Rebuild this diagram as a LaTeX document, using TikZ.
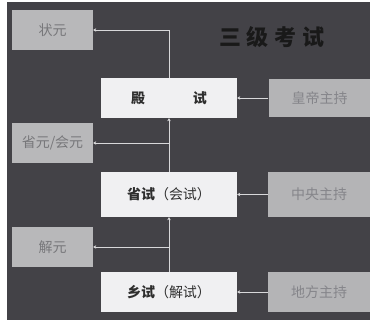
\documentclass[tikz,border=0pt]{standalone}
\usepackage{fontspec}
\setmainfont{Noto Sans CJK SC}
\usetikzlibrary{arrows.meta}
\definecolor{bgc}{HTML}{434247}
\definecolor{sidebox}{HTML}{B8B8BA}
\definecolor{sidetxt}{HTML}{77777A}
\definecolor{midbox}{HTML}{F0F0F2}
\definecolor{midtxt}{HTML}{2E2E2E}
\definecolor{rbox}{HTML}{B4B4B6}
\definecolor{rtxt}{HTML}{85858A}
\definecolor{linec}{HTML}{D8D8DA}
\tikzset{
  leftbox/.style={fill=sidebox, draw=none, minimum width=81pt, minimum height=40pt, inner sep=0pt, text=sidetxt, font=\fontsize{14}{14}\selectfont},
  midnode/.style={fill=midbox, draw=none, minimum width=136pt, inner sep=0pt, text=midtxt, font=\fontsize{14}{14}\selectfont},
  rightbox/.style={fill=rbox, draw=none, minimum width=102pt, inner sep=0pt, text=rtxt, font=\fontsize{14}{14}\selectfont},
  conn/.style={draw=linec, line width=0.9pt, -{Stealth[length=3pt,width=3.5pt]}},
}
\begin{document}
\begin{tikzpicture}[x=1pt,y=-1pt]
\useasboundingbox (0,0) rectangle (370,320);
\fill[white] (0,0) rectangle (370,320);
\fill[bgc] (7,2) rectangle (370,320);

\node[font=\fontsize{22}{22}\selectfont\bfseries, text=black!90] (title) at (272,37) {三\hspace{6pt}级\hspace{6pt}考\hspace{6pt}试};

\node[leftbox] (zy) at (52.5,30) {状元};
\node[leftbox] (sy) at (52.5,143) {省元/会元};
\node[leftbox] (jy) at (52.5,247) {解元};

\node[midnode, minimum height=40pt] (ds) at (169,98) {\textbf{殿}\hspace{48pt}\textbf{试}};
\node[midnode, minimum height=45pt] (ss) at (169,194.5) {\textbf{省试}（会试）};
\node[midnode, minimum height=40pt] (xs) at (169,292) {\textbf{乡试}（解试）};

\node[rightbox, minimum height=38pt] (hd) at (319.5,98) {皇帝主持};
\node[rightbox, minimum height=45pt] (zh) at (319,194.5) {中央主持};
\node[rightbox, minimum height=40pt] (df) at (319,292) {地方主持};

\draw[conn] (xs.north) -- (ss.south);
\draw[conn] (ss.north) -- (ds.south);
\draw[conn] (ds.north) |- (zy.east);
\draw[conn] (ss.north |- sy.east) -- (sy.east);
\draw[conn] (xs.north |- jy.east) -- (jy.east);

\draw[conn] (hd.west) -- (ds.east);
\draw[conn] (zh.west) -- (ss.east);
\draw[conn] (df.west) -- (xs.east);
\end{tikzpicture}
\end{document}
